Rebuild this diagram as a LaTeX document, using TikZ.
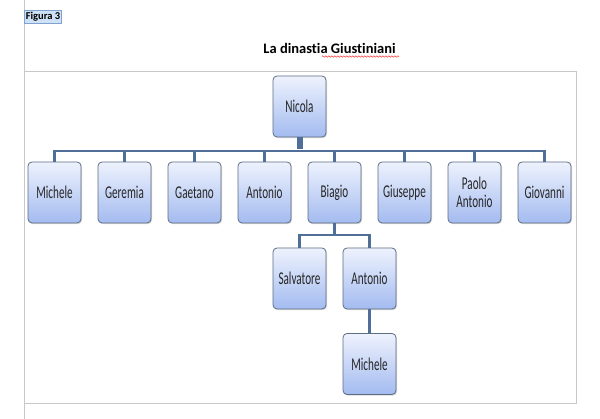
\documentclass[tikz,border=0pt]{standalone}
\usepackage{fontspec}
\setmainfont{Carlito}[Ligatures=NoCommon]
\newfontfamily\boxfont[FakeStretch=0.62,Ligatures=NoCommon]{Carlito}
\usetikzlibrary{shadows,decorations.pathmorphing}
\definecolor{conn}{HTML}{4F6F99}
\definecolor{boxborder}{HTML}{5D6D82}
\definecolor{boxtop}{HTML}{EEF2FD}
\definecolor{boxbot}{HTML}{A3BBF0}
\definecolor{frame}{HTML}{C8C8C8}
\definecolor{selfill}{HTML}{CFE1F6}
\definecolor{selborder}{HTML}{7FA3D0}
\tikzset{
  person/.style={draw=boxborder, line width=0.8pt, rounded corners=4pt,
    top color=boxtop, bottom color=boxbot,
    minimum width=53pt, minimum height=61pt, inner sep=1pt,
    align=center, text=black!85,
    font=\boxfont\fontsize{18}{18}\selectfont,
    drop shadow={opacity=0.3, shadow xshift=1pt, shadow yshift=-1.2pt}},
  link/.style={draw=conn, line width=2.6pt},
  stem/.style={draw=conn, line width=6pt},
  frameline/.style={draw=frame, line width=1pt}
}
\begin{document}
\begin{tikzpicture}[x=1pt,y=-1pt]
\useasboundingbox (0,0) rectangle (600,419);
% page frame
\draw[frameline] (24,0) -- (24,419);
\draw[frameline] (24,72) -- (576,72) -- (576,404) -- (24,404);
% label
\node[draw=selborder, fill=selfill, line width=0.6pt, inner sep=1.5pt,
  minimum height=13pt, anchor=west, font=\bfseries\fontsize{10.5}{12}\selectfont]
  (fig) at (24,16.5) {Figura 3};
\node[font=\bfseries\fontsize{14.5}{16}\selectfont, anchor=base] (title) at (329.5,54)
  {La dinastia Giustiniani};
\draw[red, line width=0.4pt, decorate, decoration={snake, amplitude=0.8pt, segment length=3pt}]
  ([xshift=62pt,yshift=-2.5pt]title.base west) -- ([yshift=-2.5pt]title.base east);
% nodes
\node[person] (nicola) at (299.5,106.5) {Nicola};
\node[person] (c1) at (54.5,192.5) {Michele};
\node[person] (c2) at (124.5,192.5) {Geremia};
\node[person] (c3) at (194.5,192.5) {Gaetano};
\node[person] (c4) at (264.5,192.5) {Antonio};
\node[person] (c5) at (334.5,192.5) {Biagio};
\node[person] (c6) at (404.5,192.5) {Giuseppe};
\node[person] (c7) at (474.5,192.5) {Paolo\\Antonio};
\node[person] (c8) at (544.5,192.5) {Giovanni};
\node[person] (g1) at (299.5,278.5) {Salvatore};
\node[person] (g2) at (369.5,278.5) {Antonio};
\node[person] (h1) at (369.5,364) {Michele};
% connectors
\coordinate (bus) at (299.5,151);
\coordinate (bus2) at (334.5,235);
\draw[link] (c1.north) -- (c1.north |- bus) -- (c8.north |- bus) -- (c8.north);
\foreach \n in {c2,c3,c4,c5,c6,c7}{\draw[link] (\n.north) -- (\n.north |- bus);}
\draw[stem] (nicola.south) -- ([yshift=1.5pt]bus);
\draw[link] (c5.south) -- (bus2);
\draw[link] (g1.north) -- (g1.north |- bus2) -- (g2.north |- bus2) -- (g2.north);
\draw[link] (g2.south) -- (h1.north);
\end{tikzpicture}
\end{document}
